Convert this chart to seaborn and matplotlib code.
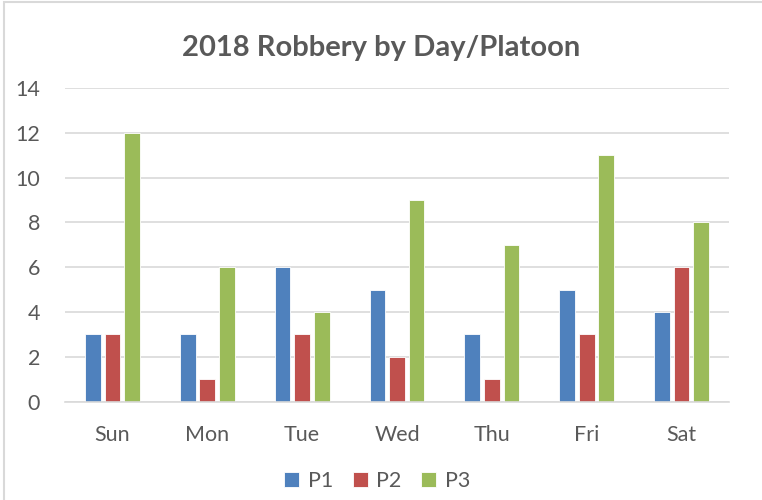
import pandas as pd
import matplotlib.pyplot as plt
import seaborn as sns
from matplotlib.patches import Rectangle

days = ["Sun", "Mon", "Tue", "Wed", "Thu", "Fri", "Sat"]
p1 = [3, 3, 6, 5, 3, 5, 4]
p2 = [3, 1, 3, 2, 1, 3, 6]
p3 = [12, 6, 4, 9, 7, 11, 8]
platoons = ["P1", "P2", "P3"]
colors = ["#4F81BD", "#C0504D", "#9BBB59"]

df = pd.DataFrame({"day": days, "P1": p1, "P2": p2, "P3": p3})
df = df.melt(id_vars="day", var_name="platoon", value_name="count")

sns.set_style("white")
plt.rcParams['font.family'] = ['Lato', 'DejaVu Sans']
text_color = "#595959"

fig = plt.figure(figsize=(7.62, 5), dpi=100)
ax = fig.add_axes([65 / 762, 1 - 401.5 / 500, (729 - 65) / 762, (401.5 - 88) / 500])

sns.barplot(data=df, x="day", y="count", hue="platoon", order=days,
            hue_order=platoons, palette=colors, saturation=1,
            width=0.62, gap=0.2, edgecolor="white", linewidth=0.6,
            ax=ax, legend=True)

ax.set_ylim(0, 14)
ax.set_yticks(range(0, 15, 2))
ax.grid(axis="y", color="#D9D9D9", linewidth=1.2)
ax.set_axisbelow(True)
for side in ["top", "right", "left"]:
    ax.spines[side].set_visible(False)
ax.spines["bottom"].set_color("#D9D9D9")
ax.spines["bottom"].set_linewidth(1.2)
ax.tick_params(axis="both", length=0, labelsize=15.5, labelcolor=text_color)
ax.tick_params(axis="y", pad=18)
ax.tick_params(axis="x", pad=17)
ax.set_xlabel("")
ax.set_ylabel("")

fig.suptitle("2018 Robbery by Day/Platoon", x=0.5, y=0.93, fontsize=21,
             fontweight="bold", color=text_color)

handles, labels = ax.get_legend_handles_labels()
ax.legend(handles, labels, loc="center", bbox_to_anchor=(0.495, 0.038),
          bbox_transform=fig.transFigure, ncol=3, frameon=False,
          fontsize=15.5, labelcolor=text_color, handlelength=0.7,
          handleheight=0.7, handletextpad=0.4, columnspacing=0.9)

fig.patches.append(Rectangle((4 / 762, -0.1), 1.2, 1 - 2 / 500 + 0.1,
                             transform=fig.transFigure, fill=False,
                             edgecolor="#D9D9D9", linewidth=1.5))

fig.savefig("out.png", dpi=100)
